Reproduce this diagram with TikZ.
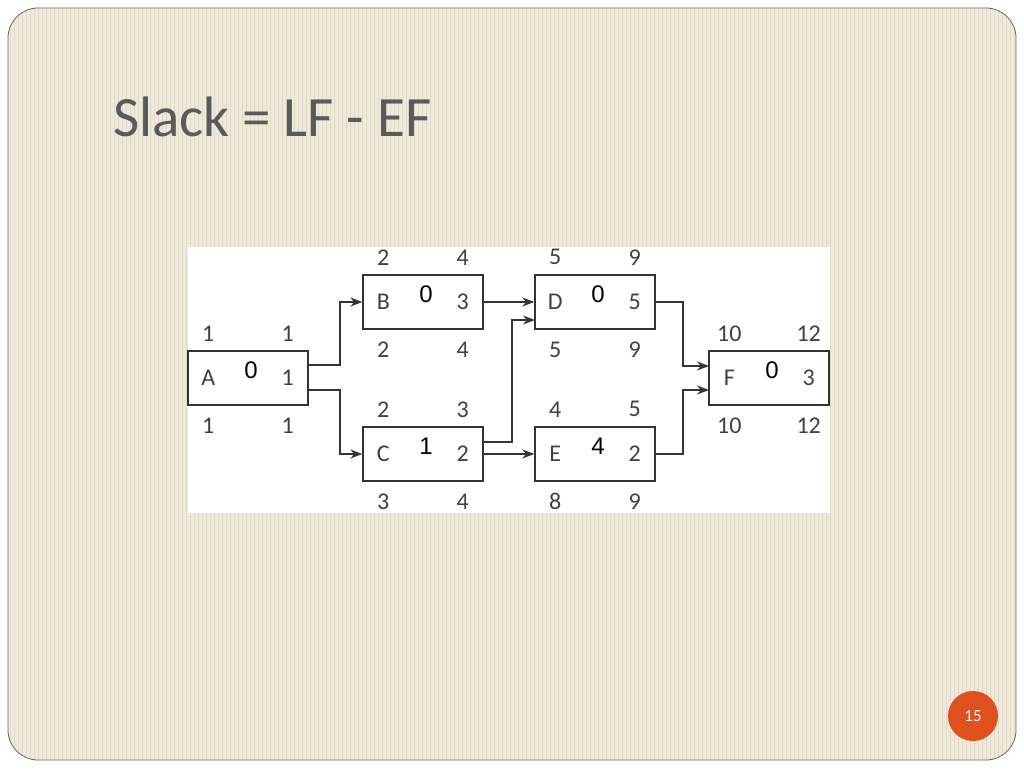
\documentclass[tikz,border=0pt]{standalone}
\usepackage{fontspec}
\setmainfont{Carlito}
\newfontfamily\arialf{Liberation Sans}
\usetikzlibrary{arrows.meta}
\definecolor{bg}{HTML}{EFE9DA}
\definecolor{stripe}{HTML}{E2DACA}
\definecolor{ttl}{HTML}{5A5A5A}
\definecolor{orng}{HTML}{E0501E}
\begin{document}
\begin{tikzpicture}[x=1pt,y=-1pt,
  act/.style={draw=black!80,line width=1.4pt,fill=white,minimum width=120pt,minimum height=54pt,inner sep=0},
  lbl/.style={font=\fontsize{24}{24}\selectfont,text=black!75,inner sep=0},
  slk/.style={font=\arialf\fontsize{24}{24}\selectfont,inner sep=0},
  conn/.style={draw=black!80,line width=1.4pt,-{Stealth[length=12pt,width=9pt]}}]
\useasboundingbox (0,0) rectangle (1024,768);
\fill[white] (0,0) rectangle (1024,768);
\begin{scope}
\clip[rounded corners=30pt] (8,8) rectangle (1016,760);
\fill[bg] (0,0) rectangle (1024,768);
\foreach \i in {0,...,255} {\draw[stripe,line width=0.8pt] (4*\i+2,0) -- (4*\i+2,768);}
\end{scope}
\draw[black!60,line width=0.8pt,rounded corners=30pt] (8,8) rectangle (1016,760);
\node[anchor=west,text=ttl,font=\fontsize{57}{57}\selectfont,inner sep=0] (title) at (113,117) {Slack = LF - EF};
\fill[white] (188,247) rectangle (830,513);
% boxes
\node[act] (A) at (248,378) {};
\node[act] (B) at (423,302) {};
\node[act] (D) at (595,302) {};
\node[act] (C) at (423,454) {};
\node[act] (E) at (595,454) {};
\node[act] (F) at (769,378) {};
\foreach \n/\name/\dur/\es/\ef/\ls/\lf/\s in {A/A/1/1/1/1/1/0,B/B/3/2/4/2/4/0,D/D/5/5/9/5/9/0,C/C/2/2/3/3/4/1,E/E/2/4/5/8/9/4,F/F/3/10/12/10/12/0}{
  \node[lbl] (\n l) at ([xshift=21pt]\n.west) {\name};
  \node[lbl] (\n d) at ([xshift=-21pt]\n.east) {\dur};
  \node[lbl] (\n es) at ([xshift=21pt,yshift=17pt]\n.north west) {\es};
  \node[lbl] (\n ef) at ([xshift=-21pt,yshift=17pt]\n.north east) {\ef};
  \node[lbl] (\n ls) at ([xshift=21pt,yshift=-20pt]\n.south west) {\ls};
  \node[lbl] (\n lf) at ([xshift=-21pt,yshift=-20pt]\n.south east) {\lf};
  \node[slk] (\n s) at ([xshift=3pt,yshift=8pt]\n.center) {\s};
}
\coordinate (a1) at (308,365); \coordinate (a2) at (308,390);
\draw[conn] (a1) -- (340,365) |- (B.west);
\draw[conn] (a2) -- (340,390) |- (C.west);
\draw[conn] (B.east) -- (D.west);
\coordinate (c1) at (483,442); \coordinate (d1) at (535,320);
\draw[conn] (c1) -- (512,442) |- (d1);
\draw[conn] (C.east) -- (E.west);
\coordinate (f1) at (709,366); \coordinate (f2) at (709,390);
\draw[conn] (D.east) -| (683,366) -- (f1);
\draw[conn] (E.east) -| (683,390) -- (f2);
\node[circle,fill=orng,minimum size=50pt,text=white,font=\fontsize{17}{17}\selectfont] (pg) at (973,716) {15};
\end{tikzpicture}
\end{document}
